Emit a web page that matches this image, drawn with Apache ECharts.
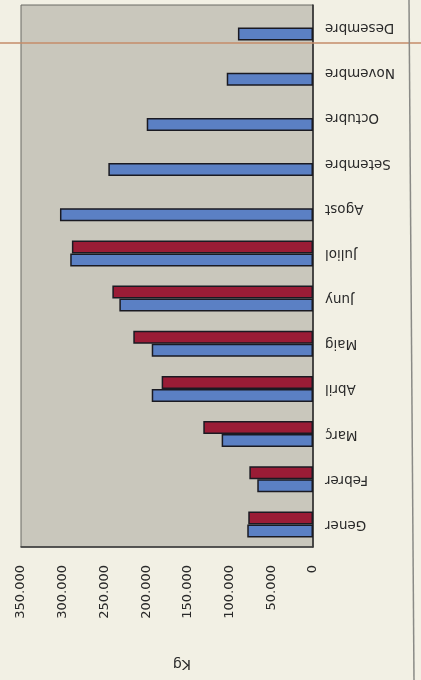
<!DOCTYPE html>
<html>
<head>
<meta charset="utf-8">
<script src="https://cdn.jsdelivr.net/npm/echarts@6/dist/echarts.min.js"></script>
<style>
html,body{margin:0;padding:0;background:#f2f0e4;}
#c{width:421px;height:680px;}
</style>
</head>
<body>
<div id="c"></div>
<script>
const categories = ['Gener','Febrer','Març','Abril','Maig','Juny','Juliol','Agost','Setembre','Octubre','Novembre','Desembre'];
const seriesBlue = [78800, 66800, 109500, 193300, 193300, 232100, 291000, 303300, 245300, 199300, 103400, 90000];
const seriesRed = [77600, 76300, 131500, 181400, 215400, 240500, 289000, null, null, null, null, null];
const valueTicks = [0, 50000, 100000, 150000, 200000, 250000, 300000, 350000];

const chart = echarts.init(document.getElementById('c'), null, {renderer:'canvas'});
const fmt = v => v === 0 ? '0' : String(v).replace(/(\d)(?=(\d{3})+$)/g, '$1.');
chart.setOption({
  backgroundColor: '#f2f0e4',
  animation: false,
  grid: {left: 21, right: 108, top: 5, bottom: 133, show: true, backgroundColor: '#c9c7bc', borderColor: '#6b6a64', borderWidth: 1},
  xAxis: {
    type: 'value', inverse: true, position: 'bottom',
    min: valueTicks[0], max: valueTicks[valueTicks.length-1], interval: 50000,
    axisLine: {show: true, lineStyle: {color: '#3a3a3a', width: 1.5}},
    axisTick: {show: false},
    splitLine: {show: false},
    axisLabel: {rotate: 90, margin: 18, color: '#2a2a2a', fontSize: 13, fontFamily: 'DejaVu Sans', formatter: fmt},
    name: 'Kg', nameLocation: 'middle', nameGap: 110, nameRotate: 180,
    nameTextStyle: {color: '#2a2a2a', fontSize: 14, fontFamily: 'DejaVu Sans', padding: [0,30,0,0]}
  },
  yAxis: {
    type: 'category', position: 'right', data: categories,
    axisLine: {show: true, lineStyle: {color: '#2a2a2a', width: 1.5}},
    axisTick: {show: false},
    axisLabel: {rotate: 180, margin: 12, color: '#2a2a2a', fontSize: 13.5, fontFamily: 'DejaVu Sans'}
  },
  series: [
    {type: 'bar', data: seriesRed, barWidth: 13, barGap: '0%',
     itemStyle: {color: '#9a1c36', borderColor: '#1a1a22', borderWidth: 1.5}},
    {type: 'bar', data: seriesBlue, barWidth: 13, barGap: '0%',
     itemStyle: {color: '#5b80c4', borderColor: '#1a1a22', borderWidth: 1.5}}
  ],
  graphic: [
    {type: 'line', shape: {x1: 0, y1: 43, x2: 421, y2: 43}, style: {stroke: '#c48c6a', lineWidth: 1.5}, z: 100},
    {type: 'line', shape: {x1: 409, y1: 0, x2: 414, y2: 680}, style: {stroke: '#8a8a86', lineWidth: 1.5}, z: 100}
  ]
});
</script>
</body>
</html>
